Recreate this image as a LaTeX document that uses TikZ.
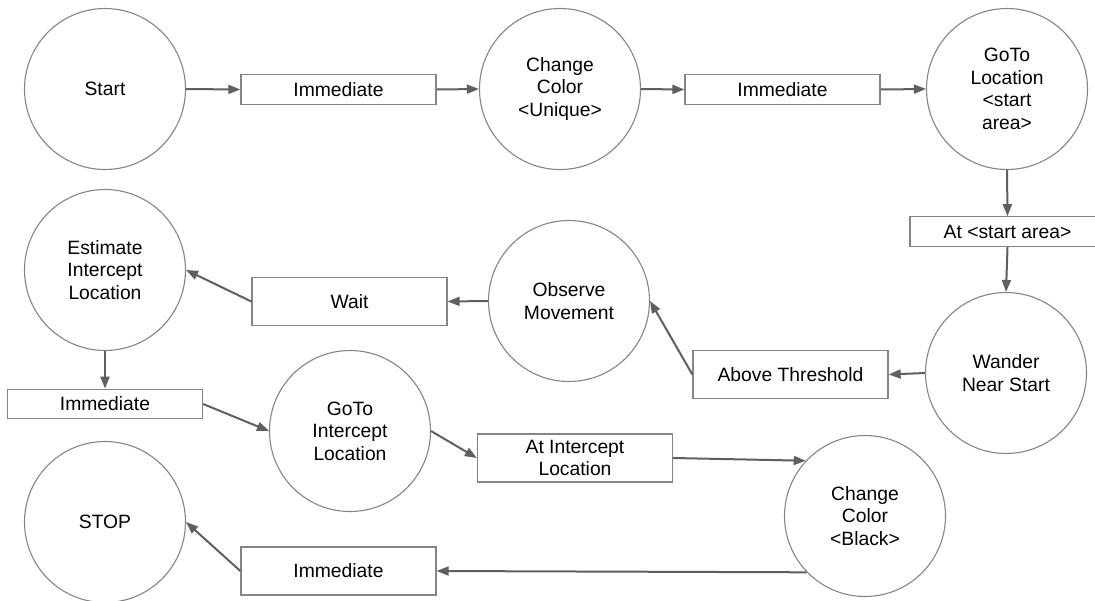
\documentclass[tikz,border=0pt]{standalone}
\usepackage{fontspec}
\setmainfont{Liberation Sans}
\usetikzlibrary{arrows.meta}

\definecolor{edgegray}{HTML}{5F5F5F}
\definecolor{outline}{HTML}{858585}

\tikzset{
  state/.style={circle, draw=outline, line width=1.1pt, minimum size=161pt,
    inner sep=0pt, align=center, font=\fontsize{19.3}{22.5}\selectfont},
  cond/.style={rectangle, draw=outline, line width=1.3pt, minimum width=195pt,
    inner sep=0pt, align=center, font=\fontsize{19.3}{22.5}\selectfont},
  lowbox/.style={cond, minimum height=29.5pt},
  highbox/.style={cond, minimum height=48pt},
  flow/.style={draw=edgegray, line width=2pt,
    -{Triangle[length=12pt,width=9pt]}}
}

\begin{document}
\begin{tikzpicture}[x=1pt, y=-1pt]
  \clip (0,0) rectangle (1095,600);
  \fill[white] (0,0) rectangle (1095,600);

  % states
  \node[state] (start)    at (105,89)  {Start};
  \node[state] (ccu)      at (560,89)  {Change\\Color\\<Unique>};
  \node[state] (goto)     at (1007,89) {GoTo\\Location\\<start\\area>};
  \node[state] (wander)   at (1006,373) {Wander\\Near Start};
  \node[state] (observe)  at (569,301) {Observe\\Movement};
  \node[state] (estimate) at (105,270) {Estimate\\Intercept\\Location};
  \node[state] (gti)      at (350,431) {GoTo\\Intercept\\Location};
  \node[state] (ccb)      at (865,516) {Change\\Color\\<Black>};
  \node[state] (stop)     at (105,522) {STOP};

  % transition conditions
  \node[lowbox]  (imm1)    at (338.5,89.5)  {Immediate};
  \node[lowbox]  (imm2)    at (782.5,89.5)  {Immediate};
  \node[lowbox]  (atstart) at (1007.5,231.5) {At <start area>};
  \node[highbox] (above)   at (790.5,374.5) {Above Threshold};
  \node[highbox] (wait)    at (349.5,301.5) {Wait};
  \node[lowbox]  (imm3)    at (105,404)     {Immediate};
  \node[highbox] (atint)   at (575,458)     {At Intercept\\Location};
  \node[highbox] (imm4)    at (338.5,571)   {Immediate};

  % flow
  \draw[flow] (start.east) -- (imm1.west);
  \draw[flow] (imm1.east) -- (ccu.west);
  \draw[flow] (ccu.east) -- (imm2.west);
  \draw[flow] (imm2.east) -- (goto.west);
  \draw[flow] (goto.south) -- (atstart.north);
  \draw[flow] (atstart.south) -- (wander.north);
  \draw[flow] (wander.west) -- (above.east);
  \draw[flow] (above.west) -- (observe.east);
  \draw[flow] (observe.west) -- (wait.east);
  \draw[flow] (wait.west) -- (estimate.east);
  \draw[flow] (estimate.south) -- (imm3.north);
  \draw[flow] (imm3.east) -- (gti.west);
  \draw[flow] (gti.east) -- (atint.west);
  \draw[flow] (atint.east) -- (ccb.137);
  \draw[flow] (ccb.224) -- (imm4.east);
  \draw[flow] (imm4.west) -- (stop.east);
\end{tikzpicture}
\end{document}
